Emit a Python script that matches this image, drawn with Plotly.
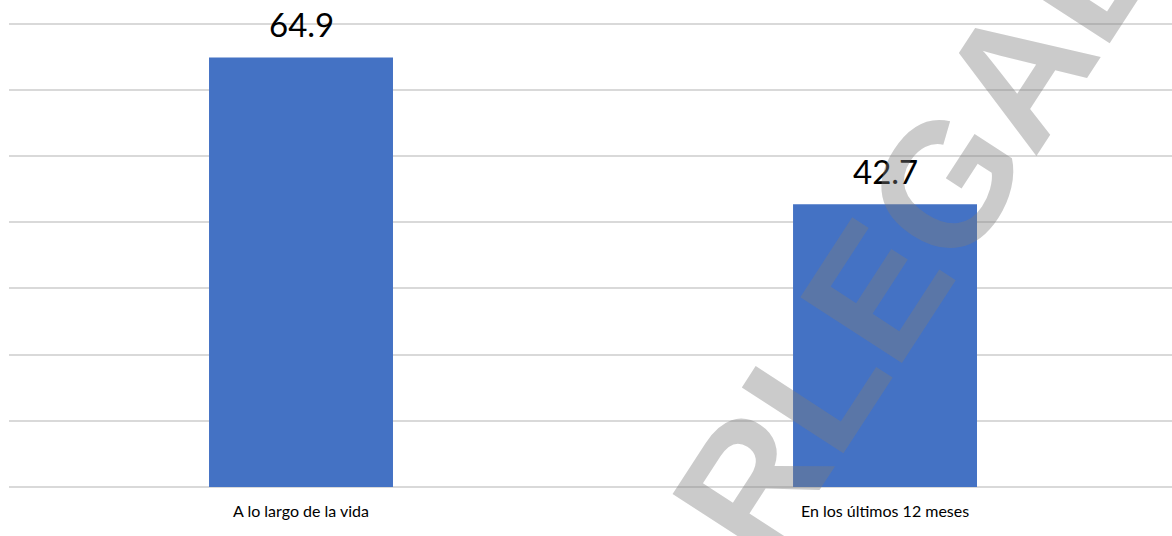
import plotly.graph_objects as go

# Datos
categorias = ["A lo largo de la vida", "En los últimos 12 meses"]
valores = [64.9, 42.7]
etiquetas = [f"{v:.1f}" for v in valores]

BAR_COLOR = "#4472c4"
GRID_COLOR = "#d9d9d9"
FONT = "Lato"

fig = go.Figure()
fig.add_trace(go.Bar(
    x=categorias,
    y=valores,
    width=0.315,
    marker=dict(color=BAR_COLOR, line=dict(width=0)),
    hoverinfo="skip",
))

# Etiquetas de valor sobre cada barra
for cat, val, txt in zip(categorias, valores, etiquetas):
    fig.add_annotation(
        x=cat, y=val, xref="x", yref="y",
        text=txt, showarrow=False,
        xanchor="center", yanchor="middle", yshift=33,
        font=dict(family=FONT, size=33, color="#000000"),
    )

# Marca de agua diagonal
fig.add_annotation(
    x=0.778, y=0.54, xref="paper", yref="paper",
    text="<b>RLEGAL</b>", showarrow=False,
    textangle=-57,
    xanchor="center", yanchor="middle",
    font=dict(family="Liberation Sans", size=176, color="rgba(124,124,124,0.4)"),
)

fig.update_layout(
    width=1172, height=536,
    margin=dict(l=9, r=0, t=17, b=49),
    paper_bgcolor="white",
    plot_bgcolor="white",
    showlegend=False,
    font=dict(family=FONT, size=16, color="#000000"),
)
fig.update_xaxes(
    type="category",
    range=[-0.5, 1.4914],
    showgrid=False,
    showline=False,
    zeroline=False,
    ticks="",
    tickfont=dict(family=FONT, size=16, color="#000000"),
    ticklabelstandoff=13,
)
fig.update_yaxes(
    range=[0, 71],
    tickvals=[0, 10, 20, 30, 40, 50, 60, 70],
    showgrid=True,
    gridcolor=GRID_COLOR,
    gridwidth=2,
    zeroline=True,
    zerolinecolor=GRID_COLOR,
    zerolinewidth=2,
    showticklabels=False,
    ticks="",
    showline=False,
)

fig.write_html("out.html")
